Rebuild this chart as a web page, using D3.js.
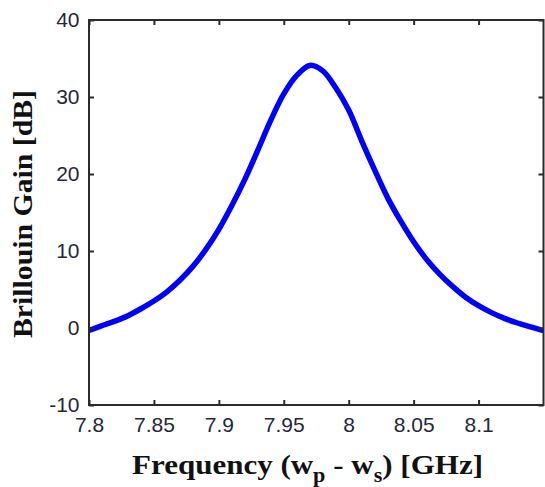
<!DOCTYPE html>
<html>
<head>
<meta charset="utf-8">
<script src="https://cdn.jsdelivr.net/npm/d3@7"></script>
<style>
  html, body { margin: 0; padding: 0; background: #fff; }
  svg { display: block; }
</style>
</head>
<body>
<svg id="chart" width="545" height="487"></svg>
<script>
// Brillouin gain spectrum vs. pump-Stokes frequency offset
const frequency = [7.80, 7.81, 7.82, 7.83, 7.84, 7.85, 7.86, 7.87, 7.88, 7.89,
                   7.90, 7.91, 7.92, 7.93, 7.94, 7.95, 7.96, 7.97, 7.98, 7.99,
                   8.00, 8.01, 8.02, 8.03, 8.04, 8.05, 8.06, 8.07, 8.08, 8.09,
                   8.10, 8.11, 8.12, 8.13, 8.14, 8.15];
const gainDb = [-0.3, 0.3, 0.9, 1.6, 2.5, 3.5, 4.7, 6.2, 8.0, 10.2,
                12.8, 15.9, 19.3, 23.1, 27.0, 30.4, 32.8, 34.1, 33.4, 31.2,
                28.3, 24.3, 20.5, 16.9, 13.9, 11.2, 8.9, 7.0, 5.4, 4.0,
                2.9, 2.0, 1.25, 0.65, 0.15, -0.35];
const xTicks = [7.8, 7.85, 7.9, 7.95, 8, 8.05, 8.1];
const xTickLabels = ["7.8", "7.85", "7.9", "7.95", "8", "8.05", "8.1"];
const yTicks = [-10, 0, 10, 20, 30, 40];
const yTickLabels = ["-10", "0", "10", "20", "30", "40"];

const svg = d3.select("#chart");
const m = { left: 89, top: 20, right: 543.5, bottom: 405 };

const x = d3.scaleLinear().domain([7.8, 8.15]).range([m.left, m.right]);
const y = d3.scaleLinear().domain([-10, 40]).range([m.bottom, m.top]);

const frameColor = "#2b2b2b";
const labelColor = "#26263a";
const tickLen = 5;

// curve
const points = frequency.map((f, i) => [f, gainDb[i]]);
const line = d3.line()
  .x(d => x(d[0]))
  .y(d => y(d[1]))
  .curve(d3.curveCatmullRom.alpha(0.5));

svg.append("defs").append("clipPath").attr("id", "plotClip")
  .append("rect")
  .attr("x", m.left).attr("y", m.top)
  .attr("width", m.right - m.left).attr("height", m.bottom - m.top);

svg.append("path")
  .datum(points)
  .attr("clip-path", "url(#plotClip)")
  .attr("fill", "none")
  .attr("stroke", "#0000ff")
  .attr("stroke-width", 5.5)
  .attr("stroke-linejoin", "round")
  .attr("d", line);

// axes with inward ticks on all four sides
const axisBottom = d3.axisBottom(x).tickValues(xTicks)
  .tickFormat((d, i) => xTickLabels[i]).tickSizeInner(-tickLen).tickSizeOuter(0).tickPadding(12);
const axisTop = d3.axisTop(x).tickValues(xTicks)
  .tickFormat("").tickSizeInner(-tickLen).tickSizeOuter(0);
const axisLeft = d3.axisLeft(y).tickValues(yTicks)
  .tickFormat((d, i) => yTickLabels[i]).tickSizeInner(-tickLen).tickSizeOuter(0).tickPadding(9.5);
const axisRight = d3.axisRight(y).tickValues(yTicks)
  .tickFormat("").tickSizeInner(-tickLen).tickSizeOuter(0);

function styleAxis(g) {
  g.select(".domain").remove();
  g.selectAll(".tick line").attr("stroke", frameColor).attr("stroke-width", 2);
  g.selectAll(".tick text")
    .attr("fill", labelColor)
    .style("font-family", "'Liberation Sans', Arial, sans-serif")
    .style("font-size", "21px");
}

svg.append("g").attr("transform", `translate(0,${m.bottom})`).call(axisBottom).call(styleAxis);
svg.append("g").attr("transform", `translate(0,${m.top})`).call(axisTop).call(styleAxis);
svg.append("g").attr("transform", `translate(${m.left},0)`).call(axisLeft).call(styleAxis);
svg.append("g").attr("transform", `translate(${m.right},0)`).call(axisRight).call(styleAxis);

// frame
svg.append("rect")
  .attr("x", m.left).attr("y", m.top)
  .attr("width", m.right - m.left).attr("height", m.bottom - m.top)
  .attr("fill", "none").attr("stroke", frameColor).attr("stroke-width", 2);

// axis titles
const titleFont = "'Liberation Serif', 'Times New Roman', serif";
const xt = svg.append("text")
  .attr("x", 307.5).attr("y", 474)
  .attr("text-anchor", "middle")
  .attr("fill", "#111")
  .attr("textLength", 351)
  .attr("lengthAdjust", "spacingAndGlyphs")
  .style("font-family", titleFont)
  .style("font-weight", "bold")
  .style("font-size", "28px");
xt.append("tspan").text("Frequency (w");
xt.append("tspan").attr("dy", 8).style("font-size", "20px").text("p");
xt.append("tspan").attr("dy", -8).text(" - w");
xt.append("tspan").attr("dy", 8).style("font-size", "20px").text("s");
xt.append("tspan").attr("dy", -8).text(") [GHz]");

svg.append("text")
  .attr("transform", "translate(32,214) rotate(-90)")
  .attr("text-anchor", "middle")
  .attr("fill", "#111")
  .attr("textLength", 248)
  .attr("lengthAdjust", "spacingAndGlyphs")
  .style("font-family", titleFont)
  .style("font-weight", "bold")
  .style("font-size", "27px")
  .text("Brillouin Gain [dB]");
</script>
</body>
</html>
